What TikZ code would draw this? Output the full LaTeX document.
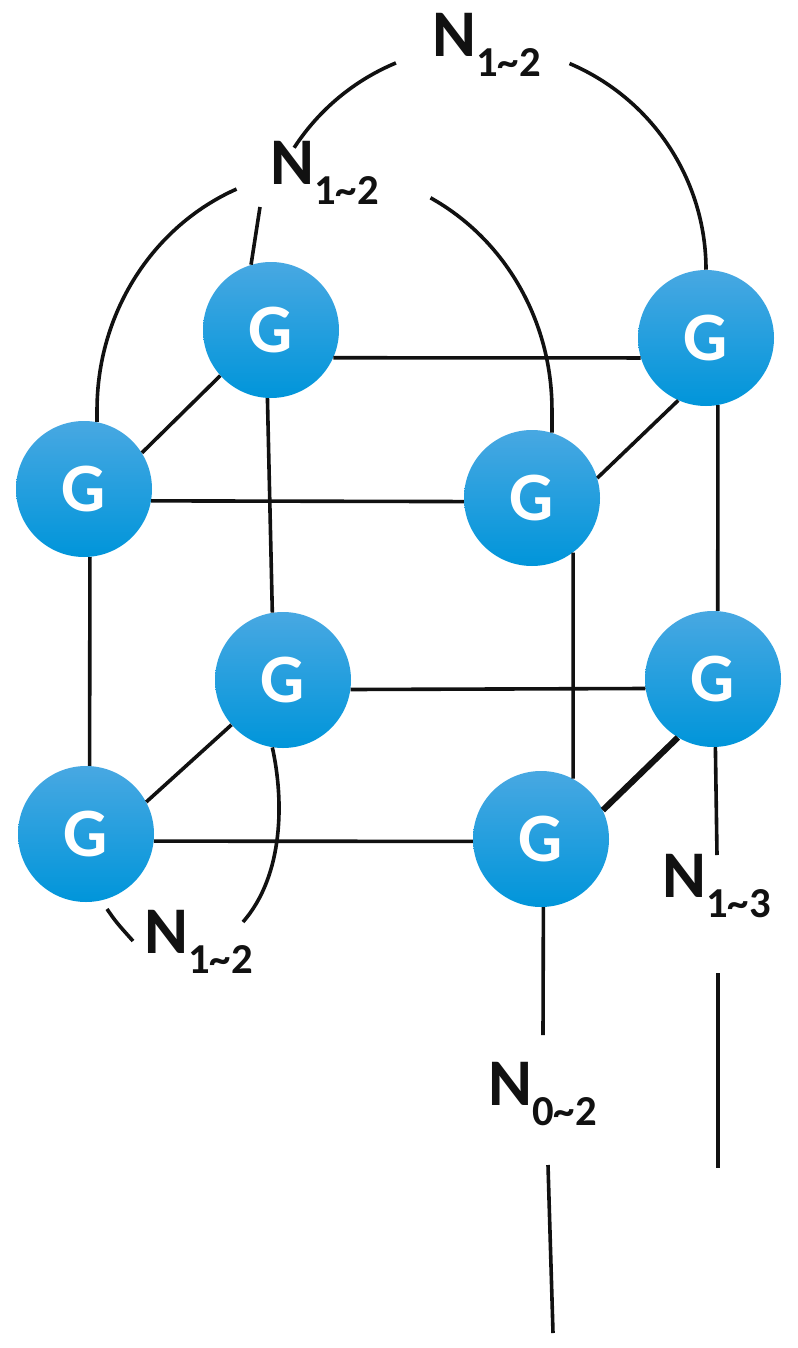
\documentclass[tikz,border=0pt]{standalone}
\usepackage{fontspec}
\setmainfont{Carlito}
\usetikzlibrary{calc}
\definecolor{gtop}{RGB}{72,168,226}
\definecolor{gbot}{RGB}{0,149,218}
\definecolor{ink}{RGB}{17,17,17}
\begin{document}
\begin{tikzpicture}[x=0.75pt,y=-0.75pt]
\tikzset{
  gnode/.style={circle, minimum size=102pt, inner sep=0pt, draw=none,
    top color=gtop, bottom color=gbot, text=white,
    font=\fontsize{52}{52}\selectfont\bfseries},
  conn/.style={line width=2.7pt, draw=ink},
  thickconn/.style={line width=4.6pt, draw=ink},
  lbl/.style={anchor=base west, inner sep=0pt, text=ink,
    font=\fontsize{50}{50}\selectfont\bfseries}
}
\newcommand{\lblsub}[1]{\raisebox{-15pt}{\fontsize{32}{32}\selectfont #1}}
\useasboundingbox (0,0) rectangle (798,1348);

% nodes
\node[gnode] (A) at (271,330) {G};
\node[gnode] (B) at (706,338) {G};
\node[gnode] (C) at (84,489) {G};
\node[gnode] (D) at (532,498) {G};
\node[gnode] (E) at (283,680) {G};
\node[gnode] (F) at (713,679) {G};
\node[gnode] (H) at (86,834) {G};
\node[gnode] (I) at (541,839) {G};

% labels
\node[lbl] (L1) at (432,57) {N\lblsub{1\textasciitilde 2}};
\node[lbl] (L2) at (270,185) {N\lblsub{1\textasciitilde 2}};
\node[lbl] (L3) at (144,953) {N\lblsub{1\textasciitilde 2}};
\node[lbl] (L13) at (662,897) {N\lblsub{1\textasciitilde 3}};
\node[lbl] (L02) at (488,1105) {N\lblsub{0\textasciitilde 2}};

% free ends
\coordinate (tickA) at (107,909);
\coordinate (tickB) at (133,941);
\coordinate (botArcEnd) at (243,922);
\coordinate (L2foot) at (260,207);
\coordinate (Fend) at (717,855);
\coordinate (Rtop) at (718,973);
\coordinate (Rbot) at (718,1168);
\coordinate (Iend) at (543,1035);
\coordinate (Mtop) at (548,1165);
\coordinate (Mbot) at (553,1333);

% cube edges
\draw[conn] (A.-24) -- (B.197);
\draw[conn] (C.-10) -- (D.183);
\draw[conn] (E.-8) -- (F.188);
\draw[conn] (H.-6) -- (I.182);
\draw[conn] (A.222) -- (C.32);
\draw[conn] (B.246) -- (D.17);
\draw[conn] (E.221) -- (H.28);
\draw[thickconn] (F.239) -- (I.25);
\draw[conn] (A.267) -- (E.99);
\draw[conn] (B.280) -- (F.86);
\draw[conn] (C.275) -- (H.87);
\draw[conn] (D.-53) -- (I.62);

% top outer arc (through label 1)
\draw[conn] (B.north) arc[start angle=0, end angle=-67, radius=224];
\draw[conn] (B.north) ++(-224,0) ++(-112.6:224) arc[start angle=-112.6, end angle=-147, radius=224];

% arcs through label 2
\draw[conn] (C.79) -- ++(0,-12) arc[start angle=180, end angle=247, x radius=229, y radius=240];
\draw[conn] (D.73) -- ++(0,-23) arc[start angle=0, end angle=-62, x radius=229, y radius=240];
\draw[conn] (A.107) -- (L2foot);

% bottom arc through label 3
\draw[conn] (E.261) .. controls (284,800) and (284,875) .. (botArcEnd);
\draw[conn] (tickA) .. controls (116,922) .. (tickB);

% right and bottom leads
\draw[conn] (F.272) -- (Fend);
\draw[conn] (Rtop) -- (Rbot);
\draw[conn] (I.272) -- (Iend);
\draw[conn] (Mtop) -- (Mbot);
\end{tikzpicture}
\end{document}
